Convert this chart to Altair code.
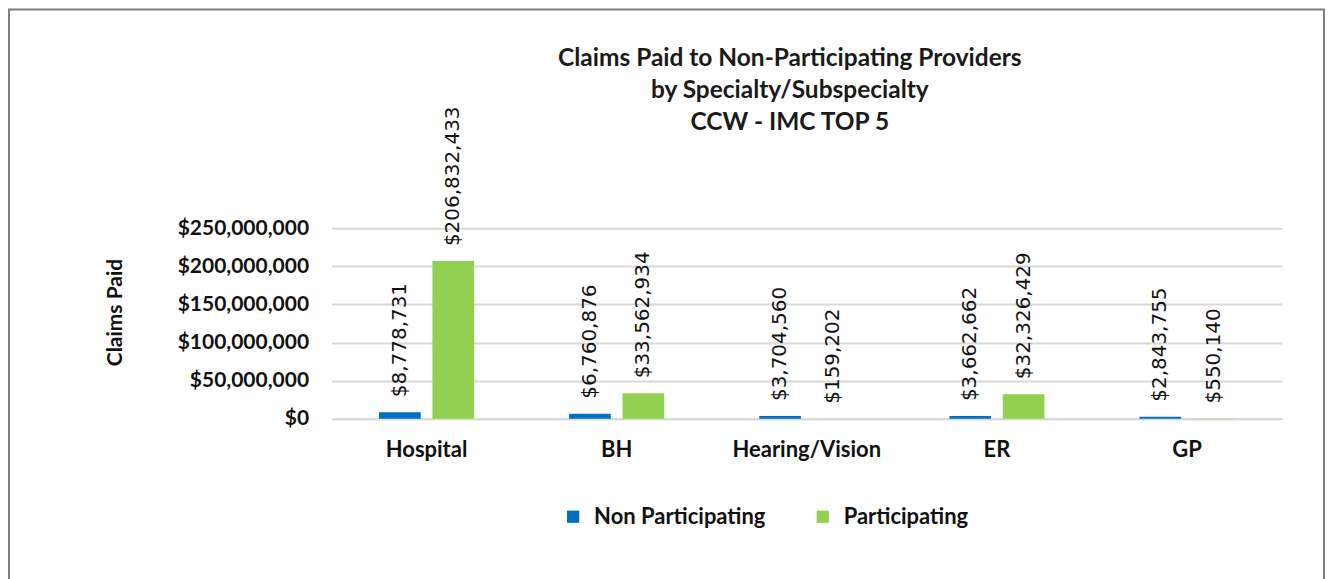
import altair as alt
import pandas as pd

categories = ["Hospital", "BH", "Hearing/Vision", "ER", "GP"]
non_participating = [8778731, 6760876, 3704560, 3662662, 2843755]
participating = [206832433, 33562934, 159202, 32326429, 550140]
series = ["Non Participating", "Participating"]
title_lines = ["Claims Paid to Non-Participating Providers", "by Specialty/Subspecialty", "CCW - IMC TOP 5"]
y_ticks = [0, 50000000, 100000000, 150000000, 200000000, 250000000]

rows = []
for c, a, b in zip(categories, non_participating, participating):
    rows.append({"Category": c, "Series": series[0], "Value": a})
    rows.append({"Category": c, "Series": series[1], "Value": b})
df = pd.DataFrame(rows)
df["Label"] = df["Value"].map(lambda v: "${:,.0f}".format(v))

FONT = "Lato"
W, H = 952, 191

x_scale = alt.Scale(paddingInner=0.5, paddingOuter=0.25)
xo_scale = alt.Scale(paddingInner=0.22, paddingOuter=0)
y_scale = alt.Scale(domain=[0, 250000000], nice=False, zero=True)

x_axis = alt.Axis(labelAngle=0, labelFont=FONT, labelFontSize=22, labelFontWeight="bold",
                  labelColor="#111", labelPadding=21, ticks=False, domain=True,
                  domainColor="#d9d9d9", domainWidth=2, grid=False)
y_axis = alt.Axis(title="Claims Paid", values=y_ticks,
                  labelExpr="'$' + format(datum.value, ',.0f')",
                  labelFont=FONT, labelFontSize=21, labelFontWeight="bold", labelColor="#111",
                  labelPadding=23, labelOverlap=False, ticks=False, domain=False,
                  grid=True, gridColor="#d9d9d9", gridWidth=2,
                  titleFont=FONT, titleFontSize=21, titleFontWeight="bold", titleColor="#111",
                  titleX=-216, titleY=84, titleBaseline="middle", titleAngle=270)

x_enc = alt.X("Category:N", sort=categories, title=None, scale=x_scale, axis=x_axis)
xo_enc = alt.XOffset("Series:N", sort=series, scale=xo_scale)
y_enc = alt.Y("Value:Q", title="Claims Paid", scale=y_scale, axis=y_axis)

base = alt.Chart(df)

bars = base.mark_bar().encode(
    x=x_enc,
    xOffset=xo_enc,
    y=y_enc,
    color=alt.Color("Series:N", sort=series,
                    scale=alt.Scale(domain=series, range=["#0070C0", "#92D050"]),
                    legend=alt.Legend(title=None, orient="none", legendX=231, legendY=278,
                                      direction="horizontal", symbolType="square", symbolSize=150,
                                      symbolStrokeWidth=0, labelFont=FONT, labelFontSize=22,
                                      labelFontWeight="bold", labelColor="#111", labelOffset=10,
                                      labelLimit=400, columnPadding=46)),
)

labels = base.mark_text(angle=270, align="left", baseline="middle", dx=15,
                        font="DejaVu Sans", fontSize=20, color="#111").encode(
    x=x_enc,
    xOffset=xo_enc,
    y=y_enc,
    text="Label:N",
)

one = pd.DataFrame({"k": [0]})
frame = alt.Chart(one).mark_rect(filled=False, stroke="#7f7f7f", strokeWidth=2).encode(
    x=alt.value(-323), x2=alt.value(994), y=alt.value(-219), y2=alt.value(420)
)

title_layers = []
for i, t in enumerate(title_lines):
    title_layers.append(
        alt.Chart(one).mark_text(text=t, font=FONT, fontSize=24.5, fontWeight="bold", color="#1a1a1a",
                                 align="center", baseline="middle").encode(
            x=alt.value(459), y=alt.value(-169 + 32 * i)
        )
    )

chart = alt.layer(frame, bars, labels, *title_layers).properties(
    width=W, height=H, padding=0, background="white"
).configure_view(stroke=None)

chart.save("out.html", embed_options={"renderer": "svg", "actions": False})
